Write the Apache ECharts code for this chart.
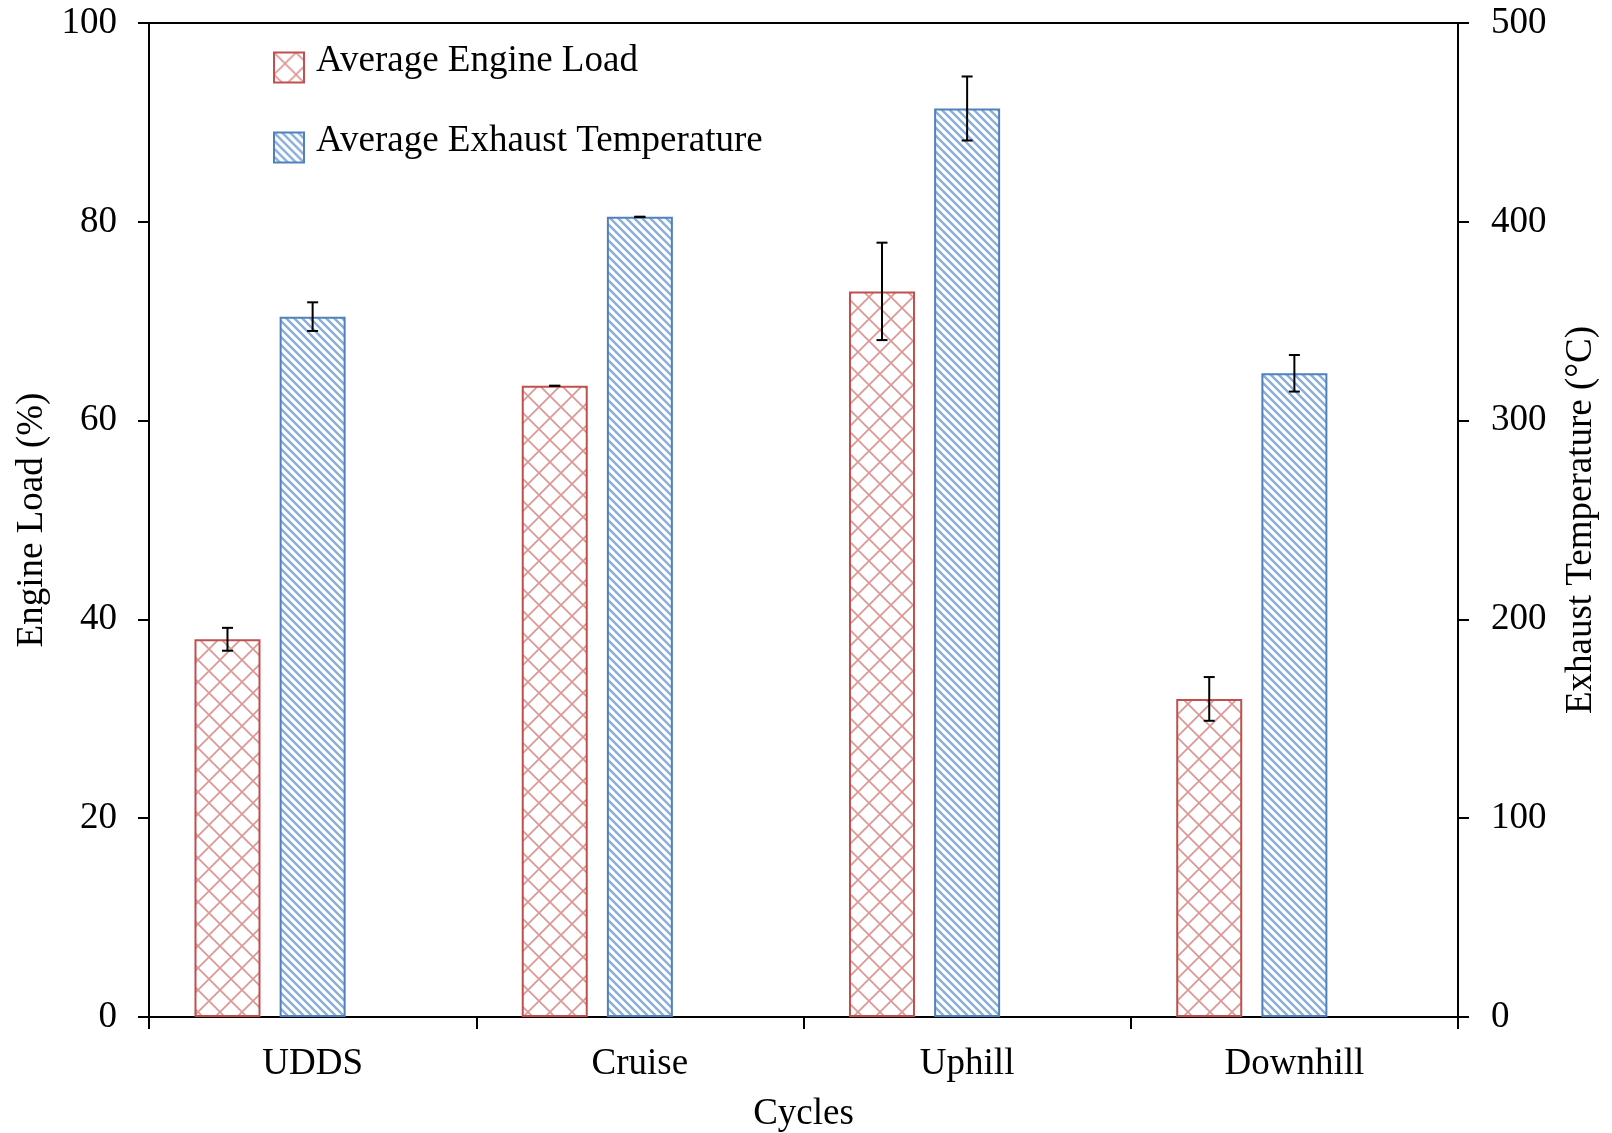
<!DOCTYPE html>
<html>
<head>
<meta charset="utf-8">
<script src="https://cdn.jsdelivr.net/npm/echarts@6/dist/echarts.min.js"></script>
<style>
html,body{margin:0;padding:0;background:#fff;}
#chart{width:1612px;height:1133px;}
</style>
</head>
<body>
<div id="chart"></div>
<script>
// ---- data ----
var categories = ['UDDS', 'Cruise', 'Uphill', 'Downhill'];
var engineLoad = [38.0, 63.5, 73.0, 32.0];
var engineLoadErr = [1.15, 0, 4.9, 2.2];
var exhaustTemp = [352.3, 402.5, 457.0, 323.8];
var exhaustTempErr = [7.2, 0, 16.1, 9.2];
var loadTicks = { min: 0, max: 100, interval: 20 };
var tempTicks = { min: 0, max: 500, interval: 100 };

// ---- style ----
var FONT = 'Liberation Serif';
var RED = '#c0504d';
var BLUE = '#4f81bd';
var BAR_W = 66;
var BAR_GAP_PCT = 29;

function crossPattern() {
  var s = 22, c = document.createElement('canvas');
  c.width = s; c.height = s;
  var g = c.getContext('2d');
  g.fillStyle = '#fff'; g.fillRect(0, 0, s, s);
  g.strokeStyle = 'rgba(205,95,92,0.65)';
  g.lineWidth = 1.7;
  g.beginPath();
  g.moveTo(-2, -2); g.lineTo(s + 2, s + 2);
  g.moveTo(s + 2, -2); g.lineTo(-2, s + 2);
  g.stroke();
  return c;
}
function stripePattern() {
  var s = 8, c = document.createElement('canvas');
  c.width = s; c.height = s;
  var g = c.getContext('2d');
  g.fillStyle = '#fff'; g.fillRect(0, 0, s, s);
  g.strokeStyle = 'rgba(100,145,205,0.75)';
  g.lineWidth = 2.4;
  g.beginPath();
  g.moveTo(-2, -2); g.lineTo(s + 2, s + 2);
  g.moveTo(-2, s - 2); g.lineTo(2, s + 2);
  g.moveTo(s - 2, -2); g.lineTo(s + 2, 2);
  g.stroke();
  return c;
}
var redFill = { image: crossPattern(), repeat: 'repeat' };
var blueFill = { image: stripePattern(), repeat: 'repeat' };

function errData(vals, errs) {
  return vals.map(function (v, i) { return [i, v, errs[i]]; });
}
function errRenderer(offsetBars) {
  return function (params, api) {
    var i = api.value(0), v = api.value(1), e = api.value(2);
    var hi = api.coord([i, v + e]);
    var lo = api.coord([i, v - e]);
    var off = offsetBars * BAR_W * (1 + BAR_GAP_PCT / 100);
    var x = hi[0] + off;
    var cap = 5.5;
    var st = { stroke: '#000', lineWidth: 2 };
    return {
      type: 'group',
      children: [
        { type: 'line', shape: { x1: x, y1: hi[1], x2: x, y2: lo[1] }, style: st },
        { type: 'line', shape: { x1: x - cap, y1: hi[1], x2: x + cap, y2: hi[1] }, style: st },
        { type: 'line', shape: { x1: x - cap, y1: lo[1], x2: x + cap, y2: lo[1] }, style: st }
      ]
    };
  };
}

var chart = echarts.init(document.getElementById('chart'), null, { renderer: 'canvas' });
var axisLineStyle = { color: '#000', width: 2 };
chart.setOption({
  animation: false,
  backgroundColor: '#fff',
  textStyle: { fontFamily: FONT, color: '#000' },
  grid: {
    left: 149, right: 154, top: 23, bottom: 116,
    containLabel: false, outerBoundsMode: 'none',
    show: true, borderColor: '#000', borderWidth: 2, backgroundColor: 'transparent'
  },
  legend: {
    orient: 'vertical', left: 273, top: 43, padding: 0,
    itemWidth: 30, itemHeight: 30, itemGap: 31,
    icon: 'rect',
    formatter: '{t|{name}}',
    textStyle: {
      fontSize: 37, fontFamily: FONT, color: '#000',
      rich: { t: { fontSize: 37, lineHeight: 30, fontFamily: FONT, color: '#000', padding: [0, 0, 12, 7] } }
    },
    data: [
      { name: 'Average Engine Load', itemStyle: { borderColor: RED, borderWidth: 2 } },
      { name: 'Average Exhaust Temperature', itemStyle: { borderColor: BLUE, borderWidth: 2 } }
    ]
  },
  xAxis: {
    type: 'category', data: categories, boundaryGap: true,
    name: 'Cycles', nameLocation: 'middle', nameGap: 79,
    nameTextStyle: { fontSize: 37, fontFamily: FONT, color: '#000' },
    axisLine: { lineStyle: axisLineStyle },
    axisTick: { show: true, inside: false, length: 12, lineStyle: { color: '#000', width: 2 } },
    axisLabel: { fontSize: 37, fontFamily: FONT, color: '#000', margin: 29 },
    splitLine: { show: false }
  },
  yAxis: [
    {
      type: 'value', min: loadTicks.min, max: loadTicks.max, interval: loadTicks.interval,
      name: 'Engine Load (%)', nameLocation: 'middle', nameGap: 97,
      nameTextStyle: { fontSize: 37, fontFamily: FONT, color: '#000' },
      axisLine: { show: true, lineStyle: axisLineStyle },
      axisTick: { show: true, inside: false, length: 11, lineStyle: { color: '#000', width: 2 } },
      axisLabel: { fontSize: 37, fontFamily: FONT, color: '#000', margin: 32 },
      splitLine: { show: false }
    },
    {
      type: 'value', position: 'right', min: tempTicks.min, max: tempTicks.max, interval: tempTicks.interval,
      name: 'Exhaust Temperature (°C)', nameLocation: 'middle', nameGap: 105, nameRotate: 90,
      nameTextStyle: { fontSize: 37, fontFamily: FONT, color: '#000' },
      axisLine: { show: true, lineStyle: axisLineStyle },
      axisTick: { show: true, inside: false, length: 11, lineStyle: { color: '#000', width: 2 } },
      axisLabel: { fontSize: 37, fontFamily: FONT, color: '#000', margin: 33 },
      splitLine: { show: false }
    }
  ],
  series: [
    {
      name: 'Average Engine Load', type: 'bar', yAxisIndex: 0, data: engineLoad,
      barWidth: BAR_W, barGap: BAR_GAP_PCT + '%',
      itemStyle: { color: redFill, borderColor: RED, borderWidth: 2 }
    },
    {
      name: 'Average Exhaust Temperature', type: 'bar', yAxisIndex: 1, data: exhaustTemp,
      barWidth: BAR_W, barGap: BAR_GAP_PCT + '%',
      itemStyle: { color: blueFill, borderColor: BLUE, borderWidth: 2 }
    },
    {
      name: 'spacer', type: 'bar', yAxisIndex: 1, data: categories.map(function () { return null; }),
      barWidth: BAR_W, barGap: BAR_GAP_PCT + '%', silent: true
    },
    {
      name: 'loadErr', type: 'custom', yAxisIndex: 0, z: 10,
      data: errData(engineLoad, engineLoadErr), renderItem: errRenderer(-1), silent: true
    },
    {
      name: 'tempErr', type: 'custom', yAxisIndex: 1, z: 10,
      data: errData(exhaustTemp, exhaustTempErr), renderItem: errRenderer(0), silent: true
    }
  ]
});
</script>
</body>
</html>
